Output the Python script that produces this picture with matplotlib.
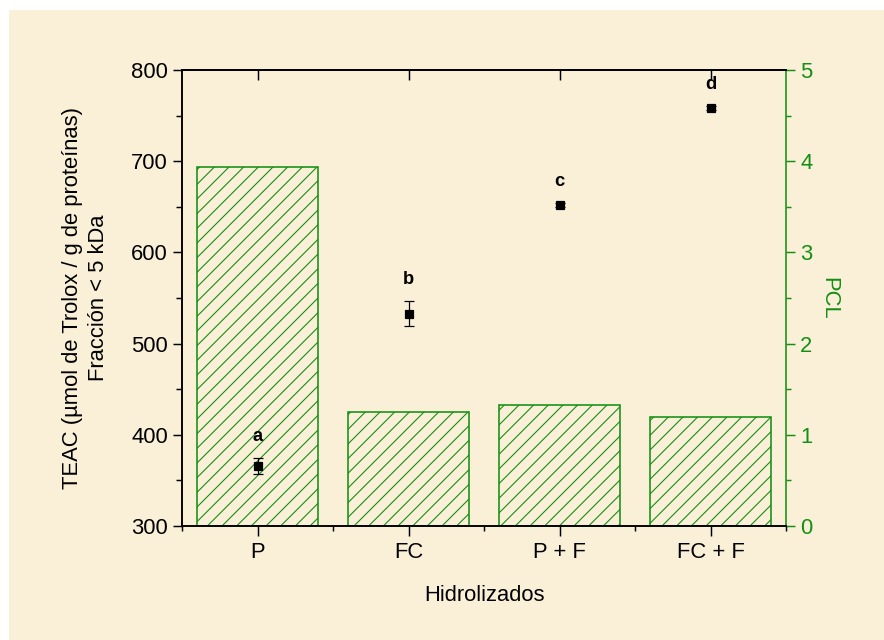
import matplotlib.pyplot as plt
from matplotlib.patches import Rectangle
from matplotlib.ticker import MultipleLocator

# datos
hidrolizados = ['P', 'FC', 'P + F', 'FC + F']
teac = [366, 533, 652, 758]
teac_err = [8.5, 13.5, 2, 2]
letras = ['a', 'b', 'c', 'd']
pcl = [3.94, 1.25, 1.33, 1.20]

verde = '#138F13'
plt.rcParams['font.family'] = ['Liberation Sans', 'DejaVu Sans']
plt.rcParams['hatch.color'] = '#3A9E2A'
plt.rcParams['hatch.linewidth'] = 0.9

fig = plt.figure(figsize=(884 / 88, 640 / 88), dpi=88, facecolor='white')
# fondo tipo pergamino
fig.patches.append(Rectangle((9 / 884, 0), 1, 1 - 10 / 640, transform=fig.transFigure,
                             facecolor='#FAF0D8', edgecolor='none', zorder=-10))

ax = fig.add_axes([182 / 884, 1 - 526 / 640, 604 / 884, 456 / 640])
ax2 = ax.twinx()
ax.set_zorder(2)
ax2.set_zorder(1)
ax.patch.set_visible(False)
ax2.patch.set_visible(False)

x = list(range(1, len(hidrolizados) + 1))

# barras PCL (eje derecho)
ax2.bar(x, pcl, width=0.8, facecolor='none', edgecolor=verde, linewidth=1.3, hatch='//')
ax2.set_ylim(0, 5)
ax2.yaxis.set_major_locator(MultipleLocator(1))
ax2.yaxis.set_minor_locator(MultipleLocator(0.5))
ax2.tick_params(axis='y', which='major', direction='out', length=7.5, width=1.2,
                colors=verde, labelsize=18, pad=4)
ax2.tick_params(axis='y', which='minor', direction='out', length=4, width=1.2, colors=verde)
ax2.spines['right'].set_color(verde)
for s in ax2.spines.values():
    s.set_linewidth(1.3)
ax2.set_ylabel('PCL', color=verde, fontsize=18, rotation=-90, labelpad=22)

# TEAC (eje izquierdo)
ax.errorbar(x, teac, yerr=teac_err, fmt='s', color='black', markersize=6.5,
            capsize=4, elinewidth=1, capthick=1)
for xi, yi, ei, l in zip(x, teac, teac_err, letras):
    ax.annotate(l, (xi, yi + ei), xytext=(0, 11), textcoords='offset points',
                ha='center', va='bottom', fontsize=15, fontweight='bold')

ax.set_xlim(0.5, 4.5)
ax.set_ylim(300, 800)
ax.yaxis.set_major_locator(MultipleLocator(100))
ax.yaxis.set_minor_locator(MultipleLocator(50))
ax.set_xticks(x)
ax.set_xticklabels(hidrolizados)
ax.set_xticks([0.5, 1.5, 2.5, 3.5, 4.5], minor=True)
ax.tick_params(axis='y', which='major', direction='out', length=7.5, width=1.2, labelsize=18, pad=4)
ax.tick_params(axis='y', which='minor', direction='out', length=5, width=1.2)
ax.tick_params(axis='x', which='major', direction='out', length=8, width=1.2, labelsize=18, pad=5,
               top=False)
ax.tick_params(axis='x', which='minor', direction='out', length=4, width=1.2)
for s in ax.spines.values():
    s.set_linewidth(1.3)
ax.spines['right'].set_visible(False)

# ticks interiores arriba
top = ax.secondary_xaxis('top')
top.set_xticks(x)
top.set_xticklabels([])
top.tick_params(direction='in', length=8, width=1.2)
top.spines['top'].set_linewidth(1.3)

ax.set_xlabel('Hidrolizados', fontsize=18, labelpad=18)
ax.set_ylabel('TEAC (µmol de Trolox / g de proteínas)\nFracción < 5 kDa', fontsize=18,
              labelpad=18, linespacing=1.3)

fig.savefig('out.png', dpi=88, facecolor='white')
